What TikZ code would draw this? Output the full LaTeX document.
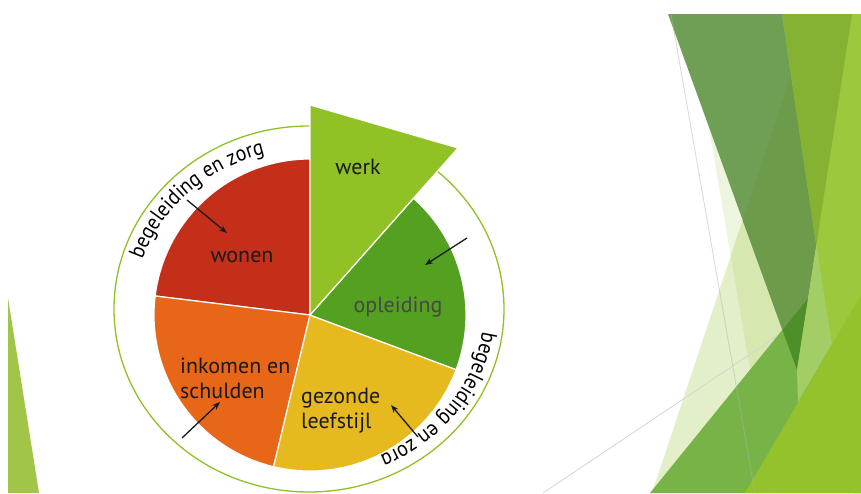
\documentclass[tikz,border=0pt]{standalone}
\usepackage{fontspec}
\setmainfont{PT Sans}
\newfontfamily\ringfam[FakeStretch=0.9]{PT Sans}
\usetikzlibrary{decorations.text,arrows.meta}
\definecolor{acA}{HTML}{90C226}
\definecolor{acB}{HTML}{54A021}
\definecolor{acC}{HTML}{E6B91E}
\definecolor{acD}{HTML}{E76618}
\definecolor{acE}{HTML}{C42F1A}
\definecolor{decoD}{HTML}{6F9F55}
\definecolor{decoDP}{HTML}{6C9B4A}
\definecolor{decoM}{HTML}{77B347}
\definecolor{decoMD}{HTML}{4E8F2A}
\definecolor{decoL}{HTML}{9CC83E}
\definecolor{decoLD}{HTML}{86B233}
\definecolor{decoK}{HTML}{A3CD65}
\definecolor{decoB}{HTML}{93C22D}
\definecolor{decoT}{HTML}{A0C548}
\definecolor{inkc}{HTML}{1A1A1A}
\newcommand{\lblfont}{\fontsize{22}{25}\selectfont}
\newcommand{\ringfont}{\ringfam\fontsize{22}{22}\selectfont}
\begin{document}
\begin{tikzpicture}[x=1pt,y=-1pt,
  slice/.style={draw=white, line width=1.2pt, line join=round},
  lbl/.style={font=\lblfont, text=inkc, inner sep=0pt},
  pointer/.style={-{Stealth[length=8pt,width=6pt]}, line width=1.3pt, draw=inkc},
  faint/.style={draw=black!17, line width=0.8pt}]
\useasboundingbox (0,0) rectangle (861,493);
\fill[white] (0,0) rectangle (861,493);
% left bottom triangle
\fill[decoT] (8,298) -- (8,493) -- (39,493) -- cycle;
% right decoration
\begin{scope}
\clip (0,14) rectangle (861,493);
\fill[acA, opacity=0.25] (811,14) -- (861,14) -- (861,493) -- (652,493) -- cycle;
\fill[acA, opacity=0.15] (709,128) -- (861,128) -- (861,493) -- (771,493) -- cycle;
\draw[faint] (543,493) -- (861,280);
\fill[decoD] (668,14) -- (852,14) -- (797,370) -- cycle;
\fill[decoDP] (811,14) -- (852,14) -- (797,370) -- (742.8,220.6) -- cycle;
\fill[decoM] (650,493) -- (861,233) -- (861,493) -- cycle;
\fill[decoMD] (782.4,329.9) -- (808.1,298.2) -- (797,370) -- cycle;
\fill[decoL] (782,14) -- (861,14) -- (861,493) -- (853,493) -- cycle;
\fill[decoLD] (782,14) -- (852,14) -- (816.3,245) -- cycle;
\fill[decoK] (816.3,245) -- (832,344) -- (798,402) -- (797,370) -- cycle;
\fill[decoB] (745,493) -- (861,295) -- (861,493) -- cycle;
\draw[black!30, line width=0.8pt, opacity=0.5] (671,14) -- (755,493);
\end{scope}
% ring and curved texts
\begin{scope}[shift={(309,309)}, y=1pt]
\draw[acA, line width=1.3pt] (0,0) ellipse[x radius=195, y radius=183];
\path[decorate, decoration={text along path, text align=center,
  text={|\ringfont|begeleiding en zorg}}]
  (178:175 and 160) arc[start angle=178, end angle=90, x radius=175, y radius=160];
\path[decorate, decoration={text along path, text align=center,
  text={|\ringfont|begeleiding en zorg}}]
  (8:175 and 160) arc[start angle=8, end angle=-81, x radius=175, y radius=160];
\end{scope}
% pie
\begin{scope}[shift={(310,315)}, y=1pt]
\path[fill=acE, slice] (0,0) -- (90:156) arc[start angle=90, end angle=173, radius=156] -- cycle;
\path[fill=acD, slice] (0,0) -- (173:156) arc[start angle=173, end angle=256.5, radius=156] -- cycle;
\path[fill=acC, slice] (0,0) -- (256.5:156) arc[start angle=256.5, end angle=339.5, radius=156] -- cycle;
\path[fill=acB, slice] (0,0) -- (339.5:156) arc[start angle=339.5, end angle=408.45, radius=156] -- cycle;
\path[fill=acA, slice] (0,0) -- (0,210) -- (148,167) -- cycle;
\end{scope}
% labels
\node[lbl] (werk) at (358,167) {werk};
\node[lbl] (wonen) at (242,257) {wonen};
\node[lbl, text=black!72] (opl) at (398,307) {opleiding};
\node[lbl, align=left, anchor=west] (ink) at (180,378) {inkomen en\\schulden};
\node[lbl, align=left, anchor=west] (gez) at (301,411) {gezonde\\leefstijl};
% arrows
\coordinate (a1s) at (187,200); \coordinate (a1e) at (227,233);
\coordinate (a2s) at (467,238); \coordinate (a2e) at (425,265);
\coordinate (a3s) at (182,438); \coordinate (a3e) at (220,402);
\coordinate (a4s) at (418,437); \coordinate (a4e) at (391,405);
\draw[pointer] (a1s) -- (a1e);
\draw[pointer] (a2s) -- (a2e);
\draw[pointer] (a3s) -- (a3e);
\draw[pointer] (a4s) -- (a4e);
\end{tikzpicture}
\end{document}
